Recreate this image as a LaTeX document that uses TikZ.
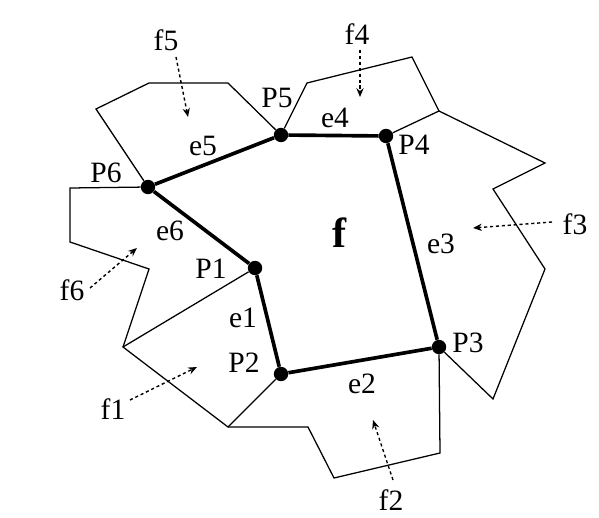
\documentclass[tikz,border=0pt]{standalone}
\usepackage{fontspec}
\setmainfont{Liberation Serif}
\usetikzlibrary{arrows.meta}

\begin{document}
\begin{tikzpicture}[x=0.025cm,y=-0.025cm,font=\fontsize{21}{24}\selectfont,
  vtx/.style={circle,fill=black,inner sep=0pt,minimum size=3.6mm},
  bnd/.style={line width=2.6pt,line join=round},
  thinln/.style={line width=0.9pt},
  ptr/.style={dash pattern=on 2.2pt off 2pt,line width=1pt,-{Stealth[length=2.2mm,width=1.8mm]}},
  lbl/.style={inner sep=0pt}]
\useasboundingbox (0,0) rectangle (599,518);
% ---------- vertices of f ----------
\node[vtx] (P1) at (255,268) {};
\node[vtx] (P2) at (281,374) {};
\node[vtx] (P3) at (439,347) {};
\node[vtx] (P4) at (386,136) {};
\node[vtx] (P5) at (281,135) {};
\node[vtx] (P6) at (148,187) {};
% ---------- neighbouring faces ----------
\draw[thinln] (P2) -- (228,427) -- (123,347) -- (P1);
\draw[thinln] (P3) -- (440,453) -- (334,478) -- (308,427) -- (228,427);
\draw[thinln] (P3) -- (493,399) -- (545,269) -- (493,189) -- (545,163) -- (439,111) -- (P4);
\draw[thinln] (P5) -- (307,83) -- (412,57) -- (439,111);
\draw[thinln] (P6) -- (96,109) -- (149,83) -- (228,83) -- (P5);
\draw[thinln] (P6) -- (70,188) -- (70,242) -- (149,269) -- (123,347);
% ---------- boundary of f ----------
\draw[bnd] (P1) -- (P2) -- (P3) -- (P4) -- (P5) -- (P6) -- (P1);
% ---------- labels ----------
\node[lbl] (lP1) at (211,269) {P1};
\node[lbl] (lP2) at (244,363) {P2};
\node[lbl] (lP3) at (468,343) {P3};
\node[lbl] (lP4) at (414,145) {P4};
\node[lbl] (lP5) at (277,98) {P5};
\node[lbl] (lP6) at (106,173) {P6};
\node[lbl] (le1) at (243,318) {e1};
\node[lbl] (le2) at (362,384) {e2};
\node[lbl] (le3) at (441,244) {e3};
\node[lbl] (le4) at (335,118) {e4};
\node[lbl] (le5) at (203,146) {e5};
\node[lbl] (le6) at (170,231) {e6};
\node[lbl,font=\fontsize{30}{33}\selectfont\bfseries] (lf) at (340,233) {f};
\node[lbl] (lf1) at (113,409) {f1};
\node[lbl] (lf2) at (391,500) {f2};
\node[lbl] (lf3) at (575,224) {f3};
\node[lbl] (lf4) at (357,34) {f4};
\node[lbl] (lf5) at (166,40) {f5};
\node[lbl] (lf6) at (72,290) {f6};
% ---------- pointers ----------
\coordinate (a1) at (130,400); \coordinate (b1) at (197,367);
\coordinate (a2) at (393,480); \coordinate (b2) at (373,420);
\coordinate (a3) at (552,222); \coordinate (b3) at (473,228);
\coordinate (a4) at (360,50);  \coordinate (b4) at (360,97);
\coordinate (a5) at (176,57);  \coordinate (b5) at (188,117);
\coordinate (a6) at (90,288);  \coordinate (b6) at (137,248);
\foreach \i in {1,...,6}
  \draw[ptr] (a\i) -- (b\i);
\end{tikzpicture}
\end{document}
